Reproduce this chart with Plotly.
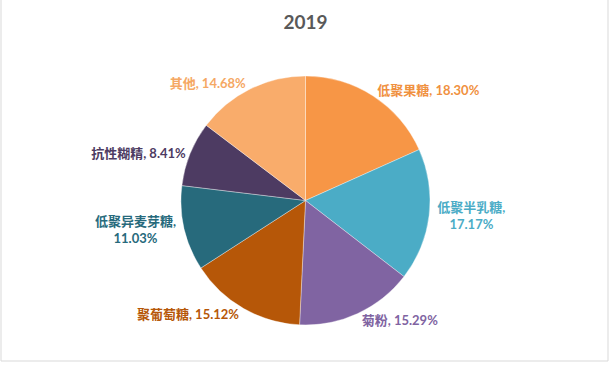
import plotly.graph_objects as go

labels = ["低聚果糖", "低聚半乳糖", "菊粉", "聚葡萄糖", "低聚异麦芽糖", "抗性糊精", "其他"]
values = [18.30, 17.17, 15.29, 15.12, 11.03, 8.41, 14.68]
colors = ["#F79646", "#4BACC6", "#8064A2", "#B65708", "#276A7C", "#4D3B62", "#F9AC6B"]
text_colors = ["#F0913F", "#4BACC6", "#8064A2", "#B65708", "#276A7C", "#4D3B62", "#F5A864"]
wrap = [False, True, False, False, True, False, False]
title = "2019"

templates = ["%{label},<br>%{value:.2f}%" if w else "%{label}, %{value:.2f}%" for w in wrap]

W, H = 611, 365
top, bottom = 76, 40

fig = go.Figure(go.Pie(
    labels=labels,
    values=values,
    sort=False,
    direction="clockwise",
    rotation=0,
    marker=dict(colors=colors, line=dict(color="rgba(255,255,255,0.6)", width=0.6)),
    texttemplate=templates,
    textposition="outside",
    outsidetextfont=dict(color=text_colors, size=13, family="Lato, 'Noto Sans CJK SC', sans-serif", weight="bold"),
    showlegend=False,
    hoverinfo="label+percent",
    automargin=False,
))

ph = H - top - bottom
fig.add_shape(type="rect", xref="paper", yref="paper",
              x0=1 / W, x1=608 / W,
              y0=(H - bottom - 361) / ph, y1=(H - bottom + 5) / ph,
              line=dict(color="#D9D9D9", width=1), fillcolor="rgba(0,0,0,0)", layer="below")

fig.update_layout(
    width=W, height=H,
    margin=dict(l=0, r=0, t=top, b=bottom),
    paper_bgcolor="white", plot_bgcolor="white",
    title=dict(text=f"<b>{title}</b>", x=0.5, xanchor="center", y=1 - 22 / H, yanchor="middle",
               yref="container",
               font=dict(size=19, color="#595959", family="Lato, 'Noto Sans CJK SC', sans-serif")),
    font=dict(family="Lato, 'Noto Sans CJK SC', sans-serif"),
)

fig.write_html("out.html", config={"displayModeBar": False},
               post_script="document.body.style.margin='0';document.body.style.overflow='hidden';")
